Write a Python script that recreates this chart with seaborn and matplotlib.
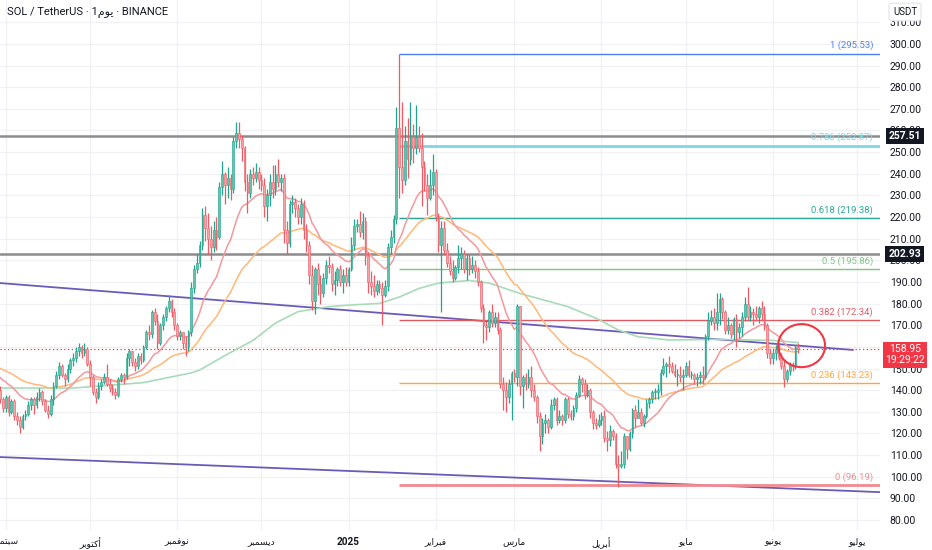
import numpy as np
import pandas as pd
import matplotlib
matplotlib.use("Agg")
import matplotlib.pyplot as plt
import matplotlib.dates as mdates
import matplotlib.transforms as mtrans
from matplotlib.patches import Ellipse
import seaborn as sns

# ---------------- data ----------------
start_date = "2024-08-30"
first_open = 140

close_ = [
    136, 132,  # Aug 30-31
    137,130,135,128,126,123,128,129,133,136,133,137,139,135,131,129,136,142,147,151,147,145,150,154,155,158,160,157,159,152,  # Sep
    146,139,137,142,144,146,143,141,139,138,145,147,146,155,158,153,151,156,154,160,167,166,176,172,162,170,174,178,181,176,170,  # Oct
    165,167,162,160,167,187,196,199,207,221,215,210,206,214,211,234,240,235,238,233,255,259,256,252,236,231,240,238,241,237,  # Nov
    235,225,230,236,233,240,236,238,214,208,226,227,224,220,226,214,207,193,181,196,189,185,192,198,197,189,191,196,190,193,190,  # Dec
    196,207,216,217,213,218,202,190,188,186,189,187,184,188,206,211,219,261,243,237,255,247,257,252,257,252,243,235,229,235,241,  # Jan
    220,207,215,205,199,195,192,197,201,203,196,201,196,198,195,190,178,170,169,176,171,174,168,143,140,137,143,148,  # Feb
    146,179,142,146,143,146,140,137,128,119,125,126,123,133,136,126,128,126,136,129,128,132,138,145,143,138,140,130,125,124,126,  # Mar
    128,118,117,121,119,106,105,106,119,113,120,131,127,130,125,128,134,136,139,139,140,148,151,152,151,149,147,147,146,147,  # Apr
    151,147,147,145,146,147,146,165,172,174,171,176,182,176,168,170,166,173,167,169,174,180,174,176,175,174,178,175,170,157,155,  # May
    157,159,155,151,145,149,152,151,160,158.95,  # Jun
]
high_ = [
    142, 137,
    138,138,136,136,130,128,129,131,135,137,137,139,141,140,136,133,138,144,149,153,152,148,152,155,157,160,162,161,162,160,
    154,147,141,144,145,148,152,145,143,141,146,148,148,157,159,158,155,157,157,161,168,170,177,178,175,171,175,179,184,182,178,
    171,168,167,165,168,190,198,203,209,224,225,222,216,218,220,236,246,241,243,240,257,264,264,258,253,240,242,243,245,243,
    240,238,233,240,244,244,247,240,240,218,228,230,229,226,229,228,217,209,198,197,199,193,194,200,202,199,195,197,198,196,197,
    197,211,219,219,223,222,220,204,195,193,191,191,190,191,208,214,221,271,295.5,273,262,266,273,263,272,262,259,246,240,242,249,
    242,222,218,218,208,202,200,198,207,206,205,203,203,202,200,197,191,180,172,177,180,176,176,169,146,144,145,149,
    150,180,179,147,148,150,151,143,138,130,127,129,127,136,137,137,131,129,137,137,131,133,139,147,146,145,143,141,131,127,129,
    130,131,121,124,122,120,110,112,120,119,121,132,133,136,132,129,136,137,140,141,143,150,155,153,156,153,152,150,151,150,
    153,154,149,148,148,149,151,166,176,177,178,185,185,183,177,174,171,174,175,171,176,183,187.5,179,178,179,179,181,179,171,159,
    159,161,162,157,154,150,153,153,161,162,
]
low_ = [
    134, 130,
    130,128,129,126,124,120,122,126,128,131,129,132,135,133,130,127,128,133,141,145,146,142,144,148,151,153,156,155,156,151,
    142,138,134,136,140,143,142,139,138,136,137,144,143,145,151,151,149,150,152,153,159,163,164,170,159,161,168,172,176,174,168,
    163,163,159,156,158,165,185,194,197,205,209,203,200,204,205,210,230,226,229,228,231,252,252,246,232,222,229,235,236,233,
    232,220,218,225,229,230,234,232,208,203,206,222,220,217,217,210,204,189,177,175,184,180,183,189,194,186,184,188,188,185,188,
    188,195,205,213,211,210,198,185,184,183,184,185,170,183,186,203,208,217,229,231,235,238,244,245,249,250,225,232,221,228,230,
    218,204,176,203,197,193,190,191,194,196,194,191,193,194,192,188,176,162,163,167,169,169,166,141,131,130,134,126,
    144,142,138,132,140,141,137,135,125,112,115,120,120,122,131,124,125,124,125,127,126,126,130,137,139,136,137,127,122,122,123,
    124,116,112,114,117,104,95.5,104,104,108,112,118,123,127,124,123,127,132,134,136,136,138,147,146,148,148,146,142,144,140,
    146,146,145,143,142,143,143,145,163,170,168,168,170,173,166,166,164,163,160,164,165,172,172,172,170,172,171,172,168,155,152,
    152,154,154,150,141.5,144,147,149,150,157,
]

# moving averages: red = EMA20, orange = EMA50 (seeded with values read at the left edge)
ema_fast_span, ema_fast_seed = 20, 147.0
ema_slow_span, ema_slow_seed = 50, 150.7
# long (green) moving average
ma_long_dates = ["2024-08-30","2024-09-25","2024-10-20","2024-11-06","2024-11-09","2024-11-18",
                 "2024-11-28","2024-12-06","2024-12-14","2024-12-25","2025-01-01","2025-01-12",
                 "2025-01-19","2025-01-26","2025-02-02","2025-02-13","2025-02-20","2025-03-03",
                 "2025-03-20","2025-03-31","2025-04-07","2025-04-14","2025-04-25","2025-05-13",
                 "2025-06-01","2025-06-10"]
ma_long_vals = [141, 141, 143.5, 148, 149.3, 156, 163, 171, 176.3, 178.6, 179.3, 180.1,
                183, 187, 189.5, 190.7, 189.5, 184.7, 178.6, 172.7, 167.8, 164.7, 163.2, 163.5,
                163, 162]

# Fibonacci retracement
fib_names = ["1", "0.786", "0.618", "0.5", "0.382", "0.236", "0"]
fib_prices = [295.53, 252.87, 219.38, 195.86, 172.34, 143.23, 96.19]
fib_start = "2025-01-19"

# horizontal levels and current price
levels = [257.51, 202.93]
last_price = 158.95
countdown = "19:29:22"

# trend lines (purple)
trend_upper_dates = ["2024-08-30 00:00", "2025-06-29 12:00"]
trend_upper_prices = [189.5, 158.6]
trend_lower_dates = ["2024-08-30 00:00", "2025-07-09 00:00"]
trend_lower_prices = [109.1, 92.9]

# highlight circle
circle_center = ("2025-06-11 05:00", 160.6)
circle_size = (16.7, 19.9)  # days, price

# axes
month_ticks = ["2024-09-01","2024-10-01","2024-11-01","2024-12-01","2025-01-01","2025-02-01",
               "2025-03-01","2025-04-01","2025-05-01","2025-06-01","2025-07-01"]
month_labels = ["سبتمبر","أكتوبر","نوفمبر","ديسمبر","2025","فبراير","مارس","أبريل","مايو","يونيو","يوليو"]
price_ticks = list(range(80, 320, 10))
title = "SOL / TetherUS · 1يوم · BINANCE"
currency = "USDT"


def dnum(seq):
    return mdates.date2num([pd.Timestamp(s) for s in seq])


# ---------------- Arabic shaping for display (matplotlib has no shaping) ----------------
_FORMS = {
    "ا": (0xFE8D, 0xFE8E), "أ": (0xFE83, 0xFE84), "د": (0xFEA9, 0xFEAA),
    "ر": (0xFEAD, 0xFEAE), "و": (0xFEED, 0xFEEE),
    "ب": (0xFE8F, 0xFE90, 0xFE91, 0xFE92), "ت": (0xFE95, 0xFE96, 0xFE97, 0xFE98),
    "س": (0xFEB1, 0xFEB2, 0xFEB3, 0xFEB4), "ف": (0xFED1, 0xFED2, 0xFED3, 0xFED4),
    "ك": (0xFED9, 0xFEDA, 0xFEDB, 0xFEDC), "ل": (0xFEDD, 0xFEDE, 0xFEDF, 0xFEE0),
    "م": (0xFEE1, 0xFEE2, 0xFEE3, 0xFEE4), "ن": (0xFEE5, 0xFEE6, 0xFEE7, 0xFEE8),
    "ي": (0xFEF1, 0xFEF2, 0xFEF3, 0xFEF4),
}


def _shape_run(run):
    out = []
    for i, ch in enumerate(run):
        f = _FORMS[ch]
        prev = run[i - 1] if i > 0 else None
        nxt = run[i + 1] if i + 1 < len(run) else None
        jp = prev is not None and len(_FORMS[prev]) == 4
        jn = len(f) == 4 and nxt is not None
        if jp and jn:
            g = f[3]
        elif jp:
            g = f[1]
        elif jn:
            g = f[2]
        else:
            g = f[0]
        out.append(chr(g))
    return "".join(reversed(out))


def visual(s):
    res, run = [], ""
    for ch in s:
        if ch in _FORMS:
            run += ch
        else:
            if run:
                res.append(_shape_run(run))
                run = ""
            res.append(ch)
    if run:
        res.append(_shape_run(run))
    return "".join(res)


# ---------------- figure ----------------
sns.set_theme(style="white")
plt.rcParams["font.family"] = ["Roboto", "DejaVu Sans"]
TXT = "#131722"

W, H = 932, 550
fig = plt.figure(figsize=(W / 100, H / 100), dpi=100)
ax = fig.add_axes([0, 20 / H, 880 / W, 530 / H])
ax.set_facecolor("white")

dates = pd.date_range(start_date, periods=len(close_), freq="D")
x = mdates.date2num(dates.to_pydatetime())
c = np.array(close_, float)
o = np.r_[first_open, c[:-1]]
hi = np.maximum(np.array(high_, float), np.maximum(o, c))
lo = np.minimum(np.array(low_, float), np.minimum(o, c))
up = c >= o

UP_F, UP_E = "#62c4ac", "#22a38d"
DN_F, DN_E = "#f7a3a8", "#ef5a64"

# grid
ax.set_xticks(dnum(month_ticks))
ax.set_yticks(price_ticks)
ax.grid(True, color="#f0f1f4", lw=0.9, zorder=0)
ax.set_axisbelow(True)

# horizontal levels
for lv in levels:
    ax.axhline(lv, color="#8c8c8c", lw=1.8, zorder=2)

# trend lines
ax.plot(dnum(trend_upper_dates), trend_upper_prices, color="#6a5bb8", lw=1.3, zorder=2)
ax.plot(dnum(trend_lower_dates), trend_lower_prices, color="#6a5bb8", lw=1.3, zorder=2)

# moving averages
ema_fast = pd.Series(np.r_[ema_fast_seed, c]).ewm(span=ema_fast_span, adjust=False).mean().to_numpy()[1:]
ema_slow = pd.Series(np.r_[ema_slow_seed, c]).ewm(span=ema_slow_span, adjust=False).mean().to_numpy()[1:]
sns.lineplot(x=dnum(ma_long_dates), y=ma_long_vals, ax=ax,
             color="#a8dbb8", lw=1.2, estimator=None, sort=False, zorder=3)
sns.lineplot(x=x, y=ema_slow, ax=ax, color="#ffb877", lw=1.1, estimator=None, sort=False, zorder=3)
sns.lineplot(x=x, y=ema_fast, ax=ax, color="#f4989c", lw=1.1, estimator=None, sort=False, zorder=3)

# candles
ax.vlines(x, lo, hi, colors=list(np.where(up, UP_E, DN_E)), lw=0.9, zorder=4)
body = np.maximum(np.abs(c - o), 0.4)
ax.bar(x, body, bottom=np.minimum(o, c), width=0.62, color=list(np.where(up, UP_F, DN_F)),
       edgecolor=list(np.where(up, UP_E, DN_E)), linewidth=0.4, zorder=5)

# limits
base = mdates.date2num(pd.Timestamp("2024-09-01"))
x0 = base - 2.03
x1 = base + 311.1
ax.set_xlim(x0, x1)
ax.set_ylim(75.4, 320.3)

# fibonacci
fib_colors = ["#4d7ff0", "#7fd6e3", "#2aa797", "#7cc67f", "#e05a66", "#ffa53d", "#f28a90"]
fib_lw = [1.0, 2.0, 1.0, 1.0, 1.0, 1.0, 2.0]
fs = mdates.date2num(pd.Timestamp(fib_start))
btr = mtrans.blended_transform_factory(ax.transAxes, ax.transData)
for name, p, col, lw in zip(fib_names, fib_prices, fib_colors, fib_lw):
    ax.hlines(p, fs, x1, color=col, lw=lw, zorder=2.5)
    ax.annotate(f"{name} ({p:.2f})", xy=(873 / 880, p), xycoords=btr,
                xytext=(0, 2.5), textcoords="offset points", ha="right", va="bottom",
                color=col, fontsize=6.8, zorder=6)

# current price line
ax.axhline(last_price, color="#f23645", lw=0.9, ls=(0, (1, 2)), zorder=2.5)

# circle
ax.add_patch(Ellipse((mdates.date2num(pd.Timestamp(circle_center[0])), circle_center[1]),
                     width=circle_size[0], height=circle_size[1], fill=False,
                     ec="#f23645", lw=1.5, zorder=7))

# axes styling
for s in ax.spines.values():
    s.set_visible(False)
ax.yaxis.tick_right()
# the 160 tick label sits fully under the live-price box, as in the reference
ax.set_yticklabels(["" if v == 160 else f"{v:.2f}" for v in price_ticks])
ax.tick_params(axis="y", length=0, pad=7, labelsize=7.5, labelcolor=TXT)
ax.set_xticklabels([visual(m) for m in month_labels])
ax.tick_params(axis="x", length=0, pad=5, labelsize=6.6, labelcolor=TXT)
for t in ax.get_xticklabels():
    if t.get_text() == "2025":
        t.set_fontweight("bold")
        t.set_fontsize(7.2)
ax.set_xlabel("")
ax.set_ylabel("")

# price boxes on the right axis
for lv in levels:
    ax.text(905 / 880, lv, f"{lv:.2f}", transform=btr, ha="center", va="center", color="white",
            fontsize=7.5, fontweight="bold", clip_on=False, zorder=10,
            bbox=dict(boxstyle="square,pad=0.3", fc="#131722", ec="none"))
ax.text(905 / 880, last_price - 2.6, f"{last_price:.2f}\n{countdown}", transform=btr, ha="center",
        va="center", color="white", fontsize=7.5, linespacing=1.15, clip_on=False, zorder=10,
        bbox=dict(boxstyle="square,pad=0.25", fc="#f23645", ec="none"))

# title and currency box
fig.text(7 / W, 1 - 12 / H, visual(title), ha="left", va="center", fontsize=8, color=TXT)
fig.text(905 / W, 1 - 12 / H, currency, ha="center", va="center", fontsize=7, color=TXT, zorder=20,
         bbox=dict(boxstyle="round,pad=0.4,rounding_size=0.3", fc="white", ec="#e0e3eb", lw=0.8))

fig.savefig("out.png", dpi=100)
